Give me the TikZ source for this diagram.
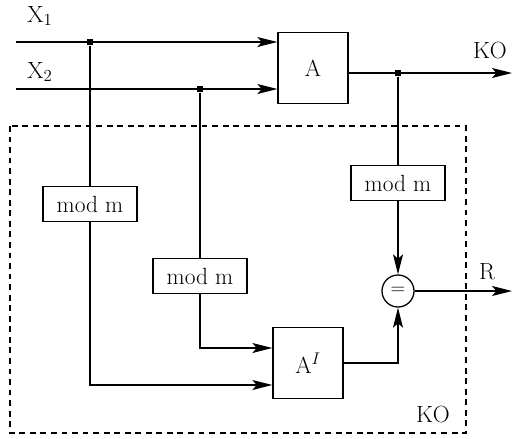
\documentclass[tikz,border=0pt]{standalone}
\usetikzlibrary{arrows.meta}

\begin{document}
\begin{tikzpicture}[x=0.03cm,y=-0.03cm,
   line width=1.1pt,
   >={Stealth[length=6mm,width=3mm,inset=1.3mm]},
   bloque/.style={draw,minimum width=2.1cm,minimum height=2.15cm,inner sep=0pt,font=\fontsize{20}{24}\selectfont},
   modulo/.style={draw,minimum width=2.82cm,minimum height=1.06cm,inner sep=0pt,font=\fontsize{20}{24}\selectfont},
   comp/.style={draw,circle,minimum size=0.96cm,inner sep=0pt,font=\fontsize{18}{22}\selectfont},
   rotulo/.style={font=\fontsize{20}{24}\selectfont},
   punto/.style={fill,minimum size=0.18cm,inner sep=0pt}]

  \useasboundingbox (0,0) rectangle (514,438);

  % bloques principales
  \node[bloque] (A)  at (313,68) {A};
  \node[bloque] (AI) at (308,363) {A$^{I}$};

  % reductores
  \node[modulo] (mL) at (90,204) {mod m};
  \node[modulo] (mM) at (200,276) {mod m};
  \node[modulo] (mR) at (398,183) {mod m};
  \node[comp]   (eq) at (398,291) {$=$};

  % entradas y derivaciones
  \coordinate (in1) at (16,42);
  \coordinate (in2) at (16,89);
  \node[punto] (d1) at (90,42) {};
  \node[punto] (d2) at (200,89) {};
  \node[punto] (d3) at (398,73) {};
  \coordinate (ko) at (512,73);
  \coordinate (r)  at (512,291);
  \coordinate (ai1) at (AI.west |- 0,348);
  \coordinate (ai2) at (AI.west |- 0,385);

  \node[rotulo] (x1) at (40,16) {X$_1$};
  \node[rotulo] (x2) at (40,72) {X$_2$};
  \node[rotulo] (lko) at (490,50) {KO};
  \node[rotulo] (lr)  at (487,272) {R};

  % --- conexiones ---
  \draw[->] (in1) -- (in1 -| A.west);
  \draw[->] (in2) -- (in2 -| A.west);
  \draw[->] (A.east |- d3) -- (ko);
  \draw (d1) -- (mL.north);
  \draw (d2) -- (mM.north);
  \draw (d3) -- (mR.north);
  \draw[->] (mR.south) -- (eq.north);
  \draw[->] (mM.south) |- (ai1);
  \draw[->] (mL.south) |- (ai2);
  \draw[->] (AI.east) -| (eq.south);
  \draw[->] (eq.east) -- (r);

  % --- zona KO ---
  \draw[dashed,dash pattern=on 5pt off 4pt] (10,126) rectangle (466,433);
  \node[rotulo] (lko2) at (433,414) {KO};
\end{tikzpicture}
\end{document}
